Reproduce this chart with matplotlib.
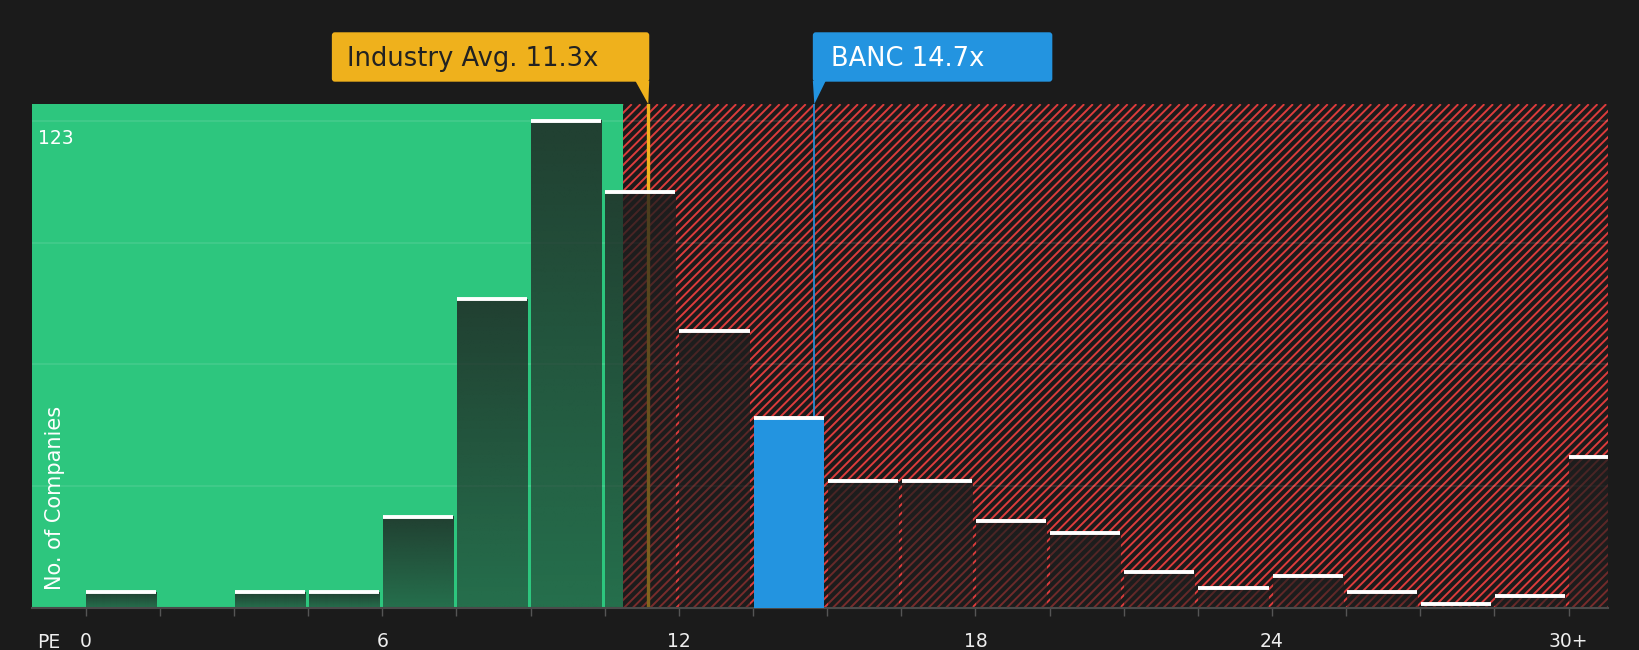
"""P/E distribution chart: BANC vs. industry peers."""

import matplotlib.pyplot as plt
import numpy as np
from matplotlib.collections import LineCollection
from matplotlib.patches import FancyBboxPatch, Polygon
from matplotlib.transforms import IdentityTransform

# data
bin_starts = [0, 1.5, 3, 4.5, 6, 7.5, 9, 10.5, 12, 13.5, 15, 16.5, 18,
              19.5, 21, 22.5, 24, 25.5, 27, 28.5, 30]
counts = [4, 0, 4, 4, 23, 78, 123, 105, 70, 48, 32, 32, 22, 19, 9, 5, 8,
          4, 1, 3, 38]
tick_values = [0, 6, 12, 18, 24, 30]
tick_labels = ["0", "6", "12", "18", "24", "30+"]
industry_avg = 11.37
industry_label = "Industry Avg. 11.3x"
banc_pe = 14.73
banc_label = "BANC 14.7x"
fair_limit = 10.87

BG = "#1b1b1b"
GREEN = "#2dc67e"
RED = "#dc3c3c"
BLUE = "#2394e0"
YELLOW = "#efb11c"

plt.rcParams["font.family"] = ["DejaVu Sans"]

fig = plt.figure(figsize=(16.4, 6.5), dpi=100, facecolor=BG)
ax = fig.add_axes([0.01976, 0.06462, 0.96049, 0.7751])
ax.set_facecolor(BG)

xmin, xmax = -1.08, 30.79
ymax = 127.2
bar_w = 1.42

ax.set_xlim(xmin, xmax)
ax.set_ylim(0, ymax)

# valuation zones
ax.axvspan(xmin, fair_limit, color=GREEN, lw=0, zorder=0)
red_zone = ax.axvspan(fair_limit, xmax, color=BG, lw=0, zorder=0)

# diagonal red stripes clipped to the overvalued zone
left_px = ax.transData.transform((fair_limit, 0))[0]
right_px = ax.transData.transform((xmax, 0))[0]
bot_px, top_px = ax.transAxes.transform([(0, 0), (0, 1)])[:, 1]
span_h = top_px - bot_px
starts = np.arange(left_px - span_h, right_px, 8.7)
segs = [[(s, bot_px), (s + span_h, top_px)] for s in starts]
stripes = LineCollection(segs, colors=RED, linewidths=1.4,
                         transform=IdentityTransform(), zorder=0.1)
ax.add_collection(stripes, autolim=False)
stripes.set_clip_path(red_zone)

# reference lines
ax.axvline(industry_avg, color=YELLOW, lw=2.4, zorder=1.6)
ax.axvline(banc_pe, color=BLUE, lw=1.2, zorder=1.6)

# bars with a dark vertical gradient
grad = np.zeros((64, 1, 4))
grad[..., :3] = 30 / 255
grad[:, 0, 3] = np.linspace(0.8, 0.52, 64)
banc_idx = int(np.searchsorted(bin_starts, banc_pe, side="right") - 1)
for i, (x, c) in enumerate(zip(bin_starts, counts)):
    if c == 0:
        continue
    x0 = x + 0.01
    x1 = x0 + bar_w
    if i == banc_idx:
        ax.bar(x0, c, width=bar_w, align="edge", color=BLUE, zorder=3)
    else:
        ax.imshow(grad, extent=(x0, x1, 0, c), aspect="auto",
                  interpolation="bilinear", zorder=2)
    ax.hlines(c, x0, x1, color="white", lw=2.8, zorder=4)

ax.set_xlim(xmin, xmax)
ax.set_ylim(0, ymax)

# axes styling
for side in ["top", "right", "left"]:
    ax.spines[side].set_visible(False)
ax.spines["bottom"].set_color("#4a4a4a")
ax.spines["bottom"].set_linewidth(1.5)
ax.set_yticks(np.linspace(0, max(counts), 5))
ax.grid(axis="y", color="white", alpha=0.1, lw=1.2)
ax.tick_params(axis="y", left=False, labelleft=False)
ax.set_xticks(tick_values, tick_labels)
ax.set_xticks(bin_starts, minor=True)
ax.tick_params(axis="x", which="both", direction="out", length=6, width=1,
               color="#555555", labelcolor="#eeeeee", labelsize=13.5, pad=11.5)

ax.annotate(str(max(counts)), xy=(0, max(counts)),
            xycoords=("axes fraction", "data"), xytext=(4, -17),
            textcoords="offset points", va="baseline", color="white",
            fontsize=13.5)
ax.annotate("No. of Companies", xy=(0, 0), xycoords="axes fraction",
            xytext=(16.5, 13), textcoords="offset points", rotation=90,
            ha="center", va="bottom", color="white", fontsize=15)
ax.annotate("PE", xy=(0, 0), xycoords="axes fraction", xytext=(3.1, -28.8),
            textcoords="offset points", va="baseline", color="#eeeeee",
            fontsize=13.5, annotation_clip=False)


def callout(x_val, text, color, text_color, box_w, to_left):
    """Label box above the plot with a pointer down to the line."""
    line_px = ax.transData.transform((x_val, 0))[0]
    y0 = top_px + 22.5
    h = 49.4
    if to_left:
        x1 = line_px + 1.5
        x0 = x1 - box_w
        tri = [(x1 - 14, y0 + 1), (x1, y0 + 1), (x1 - 1, top_px)]
        tx = x0 + 15
    else:
        x0 = line_px - 1
        tri = [(x0, y0 + 1), (x0 + 13, y0 + 1), (x0 + 1.5, top_px)]
        tx = x0 + 18.5
    fig.add_artist(FancyBboxPatch((x0, y0), box_w, h,
                                  boxstyle="round,pad=0,rounding_size=3",
                                  transform=IdentityTransform(), fc=color,
                                  ec="none"))
    fig.add_artist(Polygon(tri, closed=True, transform=IdentityTransform(),
                           fc=color, ec="none"))
    fig.text(tx, y0 + 16, text, transform=IdentityTransform(),
             color=text_color, fontsize=18.5, va="baseline")


callout(industry_avg, industry_label, YELLOW, "#222222", 317.4, True)
callout(banc_pe, banc_label, BLUE, "white", 239.5, False)

fig.savefig("out.png", dpi=100, facecolor=BG)
